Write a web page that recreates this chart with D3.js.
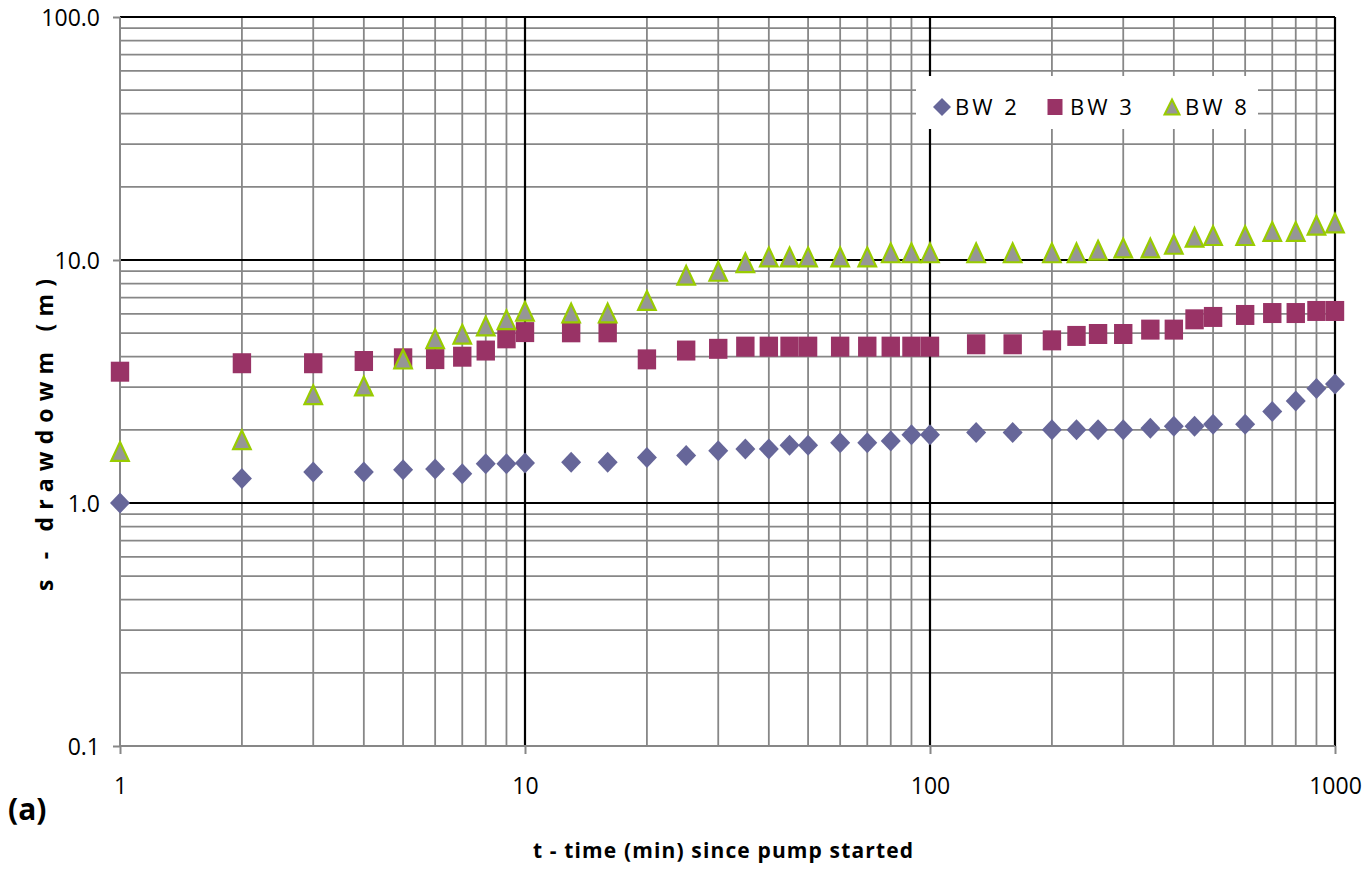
<!DOCTYPE html>
<html><head><meta charset="utf-8">
<script src="https://cdn.jsdelivr.net/npm/d3@7"></script>
<style>html,body{margin:0;padding:0;background:#fff;} svg{display:block;}</style>
</head><body>
<script>
const times = [1,2,3,4,5,6,7,8,9,10,13,16,20,25,30,35,40,45,50,60,70,80,90,100,130,160,200,230,260,300,350,400,450,500,600,700,800,900,1000];
const bw2 = [1.00,1.26,1.34,1.34,1.37,1.38,1.32,1.45,1.45,1.46,1.47,1.47,1.54,1.57,1.64,1.67,1.67,1.73,1.73,1.77,1.77,1.80,1.91,1.91,1.95,1.95,2.00,2.00,2.00,2.00,2.03,2.07,2.07,2.11,2.11,2.38,2.63,2.96,3.09];
const bw3 = [3.47,3.76,3.76,3.84,3.94,3.91,4.00,4.24,4.76,5.05,5.04,5.04,3.90,4.24,4.31,4.40,4.40,4.40,4.40,4.40,4.40,4.40,4.40,4.40,4.50,4.50,4.67,4.87,4.96,4.96,5.17,5.17,5.70,5.83,5.94,6.05,6.05,6.17,6.17];
const bw8 = [1.63,1.82,2.79,3.03,3.91,4.74,4.95,5.35,5.68,6.15,6.05,6.05,6.82,8.65,8.98,9.75,10.3,10.3,10.3,10.3,10.3,10.7,10.7,10.7,10.7,10.7,10.7,10.7,10.97,11.2,11.2,11.6,12.4,12.6,12.6,13.1,13.1,13.9,14.2];
const seriesNames = ["BW 2","BW 3","BW 8"];
const xTickLabels = ["1","10","100","1000"];
const yTickLabels = ["0.1","1.0","10.0","100.0"];
const xTitle = "t - time (min) since pump started";
const yTitle = "s - drawdowm (m)";

const W = 1371, H = 875;
const svg = d3.select("body").append("svg").attr("width", W).attr("height", H);
const x = d3.scaleLog().domain([1,1000]).range([120,1335]);
const y = d3.scaleLog().domain([0.1,100]).range([746,17]);
const GREY = "#878787", BLACK = "#000";
const FONT = "'Open Sans', 'Liberation Sans', sans-serif";

const xMinor = [], yMinor = [];
[1,10,100].forEach(d => { for (let k=2;k<=9;k++) xMinor.push(k*d); });
[0.1,1,10].forEach(d => { for (let k=2;k<=9;k++) yMinor.push(+(k*d).toFixed(3)); });
const xMajor = [1,10,100,1000], yMajor = [0.1,1,10,100];

const g = svg.append("g");
// minor grid
g.selectAll(".vmin").data(xMinor).enter().append("line")
  .attr("x1", d=>x(d)).attr("x2", d=>x(d)).attr("y1", y(100)).attr("y2", y(0.1))
  .attr("stroke", GREY).attr("stroke-width", 1.8);
g.selectAll(".hmin").data(yMinor).enter().append("line")
  .attr("y1", d=>y(d)).attr("y2", d=>y(d)).attr("x1", x(1)).attr("x2", x(1000))
  .attr("stroke", GREY).attr("stroke-width", 1.8);
// major grid
g.selectAll(".vmaj").data(xMajor.slice(1)).enter().append("line")
  .attr("x1", d=>x(d)).attr("x2", d=>x(d)).attr("y1", y(100)).attr("y2", y(0.1))
  .attr("stroke", BLACK).attr("stroke-width", 2.2);
g.selectAll(".hmaj").data(yMajor.slice(1)).enter().append("line")
  .attr("y1", d=>y(d)).attr("y2", d=>y(d)).attr("x1", x(1)).attr("x2", x(1000))
  .attr("stroke", BLACK).attr("stroke-width", 2.2);

// axes (grey) with outside ticks at majors
const yAxis = d3.axisLeft(y).tickValues(yMajor).tickSize(7).tickFormat((d,i)=>yTickLabels[i]);
const xAxis = d3.axisBottom(x).tickValues(xMajor).tickSize(8).tickFormat((d,i)=>xTickLabels[i]);
const ya = svg.append("g").attr("transform", `translate(${x(1)},0)`).call(yAxis);
ya.select(".domain").attr("stroke", GREY).attr("stroke-width", 2).attr("d", `M0,${y(100)}V${y(0.1)}`);
ya.selectAll(".tick line").attr("stroke", GREY).attr("stroke-width", 2);
ya.selectAll(".tick text").attr("x", -20).attr("font-family", FONT).attr("font-size", 23).attr("fill", "#000").attr("dy", "0.35em");
const xa = svg.append("g").attr("transform", `translate(0,${y(0.1)})`).call(xAxis);
xa.select(".domain").attr("stroke", GREY).attr("stroke-width", 2).attr("d", `M${x(1)},0H${x(1000)}`);
xa.selectAll(".tick line").attr("stroke", GREY).attr("stroke-width", 2);
xa.selectAll(".tick text").attr("y", 32).attr("dy", "0.71em").attr("font-family", FONT).attr("font-size", 23).attr("fill", "#000");

// markers
const diamond = (s, w, h) => `M0,${-h}L${w},0L0,${h}L${-w},0Z`;
const tri = (w, h) => `M0,${-h}L${w},${h}L${-w},${h}Z`;
const pts = (arr) => times.map((t,i)=>({t, v: arr[i]}));

svg.append("g").selectAll("path").data(pts(bw2)).enter().append("path")
  .attr("transform", d=>`translate(${x(d.t)},${y(d.v)})`)
  .attr("d", diamond(0, 10, 10.5)).attr("fill", "#666699");
svg.append("g").selectAll("rect").data(pts(bw3)).enter().append("rect")
  .attr("x", d=>x(d.t)-9.2).attr("y", d=>y(d.v)-10).attr("width", 18.4).attr("height", 20)
  .attr("fill", "#993366");
svg.append("g").selectAll("path").data(pts(bw8)).enter().append("path")
  .attr("transform", d=>`translate(${x(d.t)},${y(d.v)})`)
  .attr("d", tri(8.8, 9.4)).attr("fill", "#969696").attr("stroke", "#99CC00").attr("stroke-width", 2.2).attr("stroke-linejoin", "miter");

// legend
const lg = svg.append("g");
lg.append("rect").attr("x", 916).attr("y", 76).attr("width", 342).attr("height", 53).attr("fill", "#fff");
const legX = [942, 1055, 1172], legT = [955, 1070, 1185], ly = 107;
lg.append("path").attr("transform", `translate(${legX[0]},${ly})`).attr("d", diamond(0, 9, 9)).attr("fill", "#666699");
lg.append("rect").attr("x", legX[1]-7.5).attr("y", ly-8).attr("width", 15).attr("height", 16).attr("fill", "#993366");
lg.append("path").attr("transform", `translate(${legX[2]},${ly})`).attr("d", tri(7.5, 7.5)).attr("fill", "#969696").attr("stroke", "#99CC00").attr("stroke-width", 2);
seriesNames.forEach((n,i)=>{
  lg.append("text").attr("x", legT[i]).attr("y", ly).attr("dy", "0.36em")
    .attr("font-family", FONT).attr("font-size", 22).attr("letter-spacing", 3).attr("fill", "#000").text(n);
});

// axis titles
svg.append("text").attr("x", 723).attr("y", 858).attr("text-anchor", "middle")
  .attr("font-family", FONT).attr("font-weight", "bold").attr("font-size", 21)
  .attr("textLength", 380).attr("lengthAdjust", "spacing").attr("fill", "#000").text(xTitle);
svg.append("text").attr("transform", "translate(53,435) rotate(-90)").attr("text-anchor", "middle")
  .attr("font-family", FONT).attr("font-weight", "bold").attr("font-size", 23)
  .attr("textLength", 312).attr("lengthAdjust", "spacing").attr("fill", "#000").text(yTitle);

// panel label
svg.append("text").attr("x", 8).attr("y", 820).attr("font-family", FONT).attr("font-weight", "bold")
  .attr("font-size", 30).attr("fill", "#000").text("(a)");
</script>
</body></html>
